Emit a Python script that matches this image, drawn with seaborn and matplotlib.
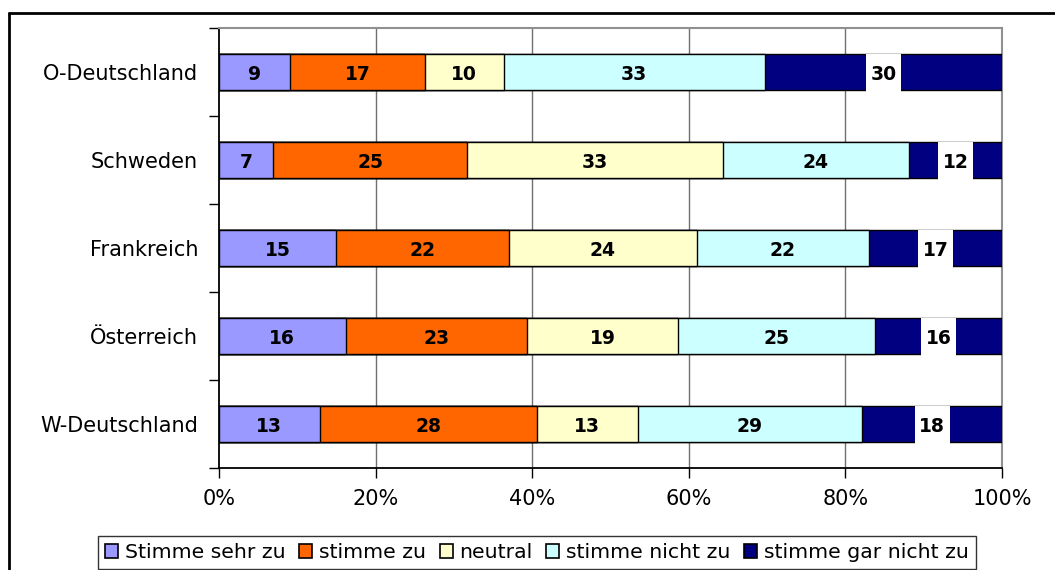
import numpy as np
import pandas as pd
import seaborn as sns
import matplotlib
import matplotlib.pyplot as plt
from matplotlib.patches import Patch
from matplotlib.lines import Line2D
matplotlib.use('agg')

countries = ["O-Deutschland", "Schweden", "Frankreich", "Österreich", "W-Deutschland"]
answers = ["Stimme sehr zu", "stimme zu", "neutral", "stimme nicht zu", "stimme gar nicht zu"]
sehr_zu = [9, 7, 15, 16, 13]
zu = [17, 25, 22, 23, 28]
neutral = [10, 33, 24, 19, 13]
nicht_zu = [33, 24, 22, 25, 29]
gar_nicht_zu = [30, 12, 17, 16, 18]
colors = ["#9999FF", "#FF6600", "#FFFFCC", "#CCFFFF", "#000080"]
xticks = [0, 20, 40, 60, 80, 100]

sns.set_style("white")
plt.rcParams['font.family'] = ['DejaVu Sans']
plt.rcParams['text.color'] = 'black'
plt.rcParams['xtick.labelcolor'] = 'black'
plt.rcParams['ytick.labelcolor'] = 'black'

vals = np.array([sehr_zu, zu, neutral, nicht_zu, gar_nicht_zu], dtype=float)
pct = vals / vals.sum(axis=0) * 100      # 100% stacked, like excel
cum = np.cumsum(pct, axis=0)

fig = plt.figure(figsize=(10.55, 5.70), dpi=100)
ax = fig.add_axes([219 / 1055, 1 - 468 / 570, (1002 - 219) / 1055, (468 - 28) / 570])

# draw from the full bar down to the first layer so each one covers the rest
for i in range(len(answers) - 1, -1, -1):
    df = pd.DataFrame({"land": countries, "wert": cum[i]})
    sns.barplot(data=df, x="wert", y="land", orient="h", color=colors[i],
                saturation=1, width=0.41, edgecolor="black", linewidth=1,
                ax=ax, zorder=3)

# labels in the middle of each segment
for i in range(len(answers)):
    start = cum[i] - pct[i]
    for j in range(len(countries)):
        mid = start[j] + pct[i][j] / 2
        box = None
        if i == len(answers) - 1:
            # white label box, taller than wide like excel draws it
            box = dict(boxstyle="square,pad=0.25", fc="white", ec="none",
                       mutation_aspect=2.3)
        ax.text(mid, j, "%d" % vals[i][j], ha="center", va="center_baseline",
                fontsize=13.5, fontweight="bold", color="black", zorder=5, bbox=box)

ax.set_xlim(0, 100)
ax.set_ylim(4.5, -0.5)
ax.set_xticks(xticks)
ax.set_xticklabels(["%d%%" % t for t in xticks], fontsize=15, color="black")
ax.set_xlabel("")
ax.set_ylabel("")
ax.tick_params(axis="y", which="major", length=0, pad=15, labelsize=15, labelcolor="black")
ax.set_yticks(np.arange(-0.5, 5, 1), minor=True)
ax.tick_params(axis="y", which="minor", length=7, width=1, color="black", left=True)
ax.tick_params(axis="x", which="major", length=7, width=1, color="black",
               bottom=True, direction="out", pad=8)

ax.grid(False)
for t in xticks[1:-1]:
    ax.axvline(t, color="#707070", lw=1, zorder=1)
for s in ["left", "bottom"]:
    ax.spines[s].set_color("black")
    ax.spines[s].set_linewidth(1.3)
for s in ["right", "top"]:
    ax.spines[s].set_color("#909090")
    ax.spines[s].set_linewidth(1.5)

handles = [Patch(facecolor=c, edgecolor="black", linewidth=1.2) for c in colors]
fig.legend(handles, answers, loc="upper center", bbox_to_anchor=(537 / 1055, 1 - 536 / 570),
           ncol=5, frameon=True, fancybox=False, edgecolor="black", fontsize=14.7,
           handlelength=0.63, handleheight=0.63, handletextpad=0.34, columnspacing=0.67,
           borderpad=0.35, borderaxespad=0, labelcolor="black")

# outer chart frame, cut off on the right and bottom
fig.add_artist(Line2D([9 / 1055, 1], [1 - 13 / 570, 1 - 13 / 570], color="black", lw=2))
fig.add_artist(Line2D([9 / 1055, 9 / 1055], [0, 1 - 13 / 570], color="black", lw=2))

fig.savefig("out.png", dpi=100)
plt.close()
